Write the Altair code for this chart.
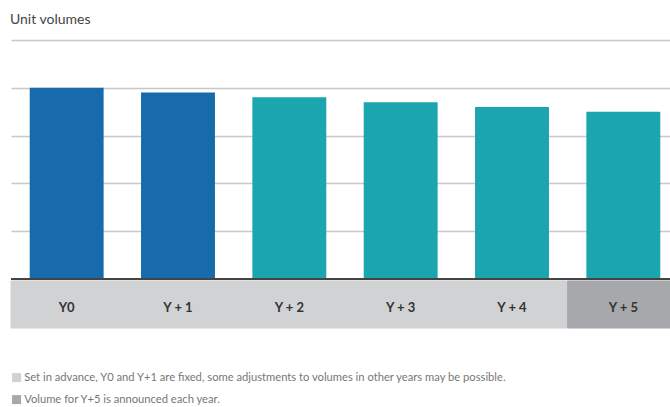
import altair as alt
import pandas as pd

categories = ["Y0", "Y + 1", "Y + 2", "Y + 3", "Y + 4", "Y + 5"]
volumes = [4.0, 3.9, 3.8, 3.7, 3.6, 3.5]
bar_colors = ["#176bab", "#176bab", "#1ba5ae", "#1ba5ae", "#1ba5ae", "#1ba5ae"]
legend_labels = [
    "Set in advance, Y0 and Y+1 are fixed, some adjustments to volumes in other years may be possible.",
    "Volume for Y+5 is announced each year.",
]
legend_colors = ["#d1d2d4", "#a7a8ab"]
groups = [legend_labels[0]] * 5 + [legend_labels[1]]
y_ticks = [0, 1, 2, 3, 4, 5]

FONT = "Lato"

df = pd.DataFrame({"cat": categories, "vol": volumes, "barColor": bar_colors, "group": groups})

x = alt.X("cat:N", sort=categories, axis=None,
          scale=alt.Scale(range=[0, 668], paddingInner=0, paddingOuter=0))

color_scale = alt.Scale(domain=legend_labels, range=legend_colors)

band = alt.Chart(df).mark_rect(strokeWidth=1).encode(
    x=x,
    y=alt.value(241),
    y2=alt.value(288),
    color=alt.Color("group:N", sort=legend_labels, scale=color_scale,
                    legend=alt.Legend(title=None, orient="none", legendX=0, legendY=332,
                                      symbolType="square", symbolSize=81, symbolStrokeWidth=0,
                                      symbolOpacity=1,
                                      labelFont=FONT, labelFontSize=11.2, labelColor="#777777",
                                      labelLimit=0, labelOffset=2, rowPadding=10)),
    stroke=alt.Stroke("group:N", scale=color_scale, legend=None),
)

labels = alt.Chart(df).mark_text(font=FONT, fontSize=13, fontWeight="bold", color="#333333",
                                 baseline="middle").encode(
    x=x,
    y=alt.value(268),
    text="cat:N",
)

bars = alt.Chart(df).mark_bar(width={"band": 0.664}).encode(
    x=x,
    y=alt.Y("vol:Q", scale=alt.Scale(domain=[0, 5], nice=False),
            axis=alt.Axis(values=y_ticks, grid=True, gridColor="#c8c8c8", gridWidth=1.5,
                          domain=False, ticks=False, labels=False, title=None)),
    fill=alt.Fill("barColor:N", scale=None),
)

base_rule = alt.Chart(pd.DataFrame({"v": [0]})).mark_rule(color="#444444", strokeWidth=2.2).encode(
    y=alt.Y("v:Q", scale=alt.Scale(domain=[0, 5], nice=False))
)

chart = alt.layer(band, bars, base_rule, labels).properties(
    width=659,
    height=239,
    title=alt.TitleParams("Unit volumes", anchor="start", font=FONT, fontSize=14,
                          fontWeight="normal", color="#444444", baseline="alphabetic", offset=2),
    autosize=alt.AutoSizeParams(type="none"),
    padding={"left": 11, "top": 40, "right": 0, "bottom": 128},
    background="white",
).configure_view(stroke=None)

chart.save("out.html", embed_options={"renderer": "svg", "actions": False})
